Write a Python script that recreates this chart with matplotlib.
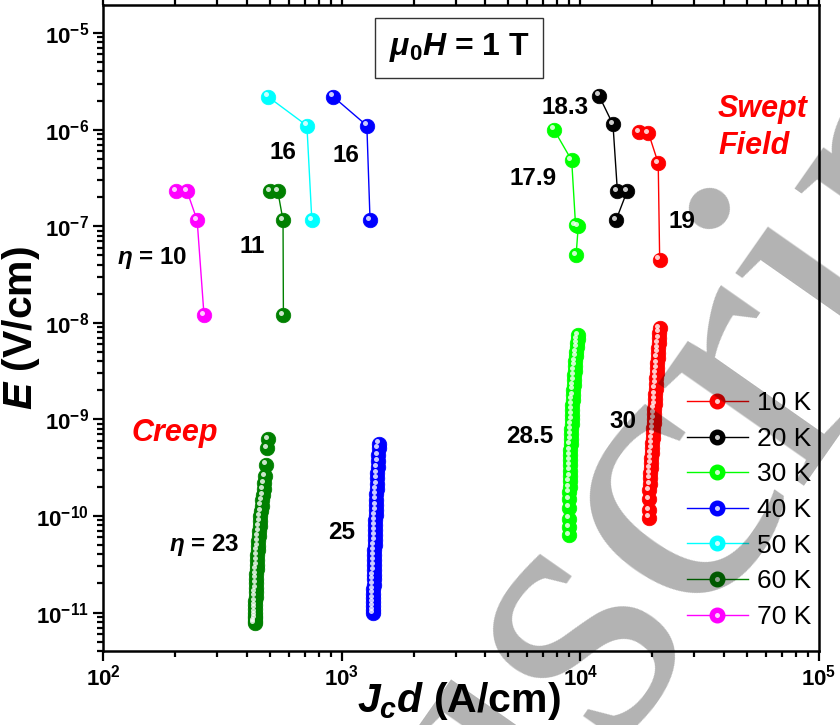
import matplotlib
matplotlib.use("Agg")
import matplotlib.pyplot as plt
from matplotlib.lines import Line2D
from matplotlib.legend_handler import HandlerTuple
from matplotlib.ticker import FuncFormatter, LogLocator, NullFormatter
import matplotlib.transforms as mtransforms
import numpy as np

plt.rcParams['font.family'] = ['Liberation Sans', 'DejaVu Sans']
plt.rcParams['mathtext.fontset'] = 'custom'
plt.rcParams['mathtext.rm'] = 'Liberation Sans:bold'
plt.rcParams['mathtext.bf'] = 'Liberation Sans:bold'
plt.rcParams['mathtext.it'] = 'Liberation Sans:italic:bold'
plt.rcParams['mathtext.sf'] = 'Liberation Sans:bold'

# ---------------- data ----------------
temps = ['10 K', '20 K', '30 K', '40 K', '50 K', '60 K', '70 K']
colors = ['#ff0000', '#000000', '#00ff00', '#0000ff', '#00ffff', '#008000', '#ff00ff']

# swept-field measurements (Jc*d in A/cm, E in V/cm)
swept_x = {
    '10 K': [17600, 19300, 21200, 21500],
    '20 K': [11970, 13700, 14300, 15700, 14100],
    '30 K': [7750, 9200, 9550, 9800, 9600],
    '40 K': [920, 1275, 1315],
    '50 K': [490, 715, 750],
    '60 K': [500, 540, 568, 570],
    '70 K': [202, 225, 248, 265],
}
swept_y = {
    '10 K': [9.5e-7, 9.2e-7, 4.5e-7, 4.5e-8],
    '20 K': [2.25e-6, 1.13e-6, 2.3e-7, 2.3e-7, 1.15e-7],
    '30 K': [1.0e-6, 4.8e-7, 1.02e-7, 1.0e-7, 5.0e-8],
    '40 K': [2.2e-6, 1.1e-6, 1.15e-7],
    '50 K': [2.2e-6, 1.1e-6, 1.15e-7],
    '60 K': [2.3e-7, 2.3e-7, 1.15e-7, 1.2e-8],
    '70 K': [2.3e-7, 2.3e-7, 1.15e-7, 1.2e-8],
}

# creep (relaxation) measurements
creep_x = {
    '10 K': [21500, 21430, 21360, 21290, 21220, 21150, 21080, 21010, 20940, 20870,
             20800, 20740, 20680, 20620, 20560, 20500, 20440, 20380, 20320, 20260,
             20200, 20140, 20080, 20020, 19960, 19900, 19840, 19780, 19720, 19660,
             19600, 19540, 19480, 19440, 19400, 19380],
    '30 K': [9780, 9740, 9700, 9660, 9620, 9580, 9540, 9500, 9460, 9430,
             9400, 9370, 9340, 9310, 9290, 9270, 9250, 9230, 9210, 9190,
             9170, 9150, 9130, 9110, 9090, 9075, 9060, 9050, 9040, 9030,
             9020, 9010, 9000, 8990, 8980, 8970, 8965, 8960],
    '40 K': [1432, 1428, 1424, 1420, 1416, 1412, 1408, 1404, 1401, 1398,
             1395, 1392, 1389, 1386, 1384, 1382, 1380, 1378, 1376, 1374,
             1372, 1370, 1368, 1366, 1364, 1362, 1361, 1360, 1359, 1358,
             1357, 1356, 1355, 1354, 1353],
    '60 K': [491, 486, 482, 477, 474, 471, 468, 465, 462, 460,
             457, 455, 453, 451, 449, 447, 446, 444.5, 443, 442,
             441, 440, 439, 438, 437, 436.5, 436, 435.5, 435, 434.5,
             434, 433.5, 433, 432.5, 432, 431.5],
}
creep_y = {
    '10 K': [8.8e-9, 7.9e-9, 7.0e-9, 6.2e-9, 5.5e-9, 4.9e-9, 4.35e-9, 3.85e-9, 3.4e-9, 3.0e-9,
             2.65e-9, 2.35e-9, 2.08e-9, 1.84e-9, 1.63e-9, 1.45e-9, 1.29e-9, 1.15e-9, 1.02e-9, 9.1e-10,
             8.1e-10, 7.2e-10, 6.4e-10, 5.7e-10, 5.05e-10, 4.5e-10, 4.0e-10, 3.55e-10, 3.15e-10, 2.8e-10,
             2.45e-10, 2.15e-10, 1.84e-10, 1.5e-10, 1.14e-10, 9.6e-11],
    '30 K': [7.4e-9, 6.8e-9, 6.2e-9, 5.6e-9, 5.0e-9, 4.5e-9, 4.0e-9, 3.6e-9, 3.2e-9, 2.85e-9,
             2.55e-9, 2.28e-9, 2.03e-9, 1.8e-9, 1.6e-9, 1.42e-9, 1.26e-9, 1.12e-9, 1.0e-9, 8.9e-10,
             7.9e-10, 7.0e-10, 6.2e-10, 5.5e-10, 4.85e-10, 4.3e-10, 3.8e-10, 3.35e-10, 2.95e-10, 2.6e-10,
             2.3e-10, 2.0e-10, 1.75e-10, 1.5e-10, 1.22e-10, 9.4e-11, 7.7e-11, 6.3e-11],
    '40 K': [5.6e-10, 5.0e-10, 4.3e-10, 3.7e-10, 3.2e-10, 2.8e-10, 2.45e-10, 2.15e-10, 1.9e-10, 1.68e-10,
             1.48e-10, 1.3e-10, 1.15e-10, 1.02e-10, 9.0e-11, 8.0e-11, 7.1e-11, 6.3e-11, 5.6e-11, 5.0e-11,
             4.45e-11, 3.95e-11, 3.5e-11, 3.1e-11, 2.75e-11, 2.45e-11, 2.2e-11, 1.95e-11, 1.75e-11, 1.57e-11,
             1.42e-11, 1.28e-11, 1.16e-11, 1.06e-11, 9.8e-12],
    '60 K': [6.2e-10, 5.0e-10, 3.4e-10, 2.6e-10, 2.2e-10, 1.9e-10, 1.65e-10, 1.45e-10, 1.28e-10, 1.13e-10,
             1.0e-10, 8.9e-11, 7.9e-11, 7.0e-11, 6.2e-11, 5.5e-11, 4.9e-11, 4.4e-11, 3.9e-11, 3.5e-11,
             3.1e-11, 2.8e-11, 2.5e-11, 2.25e-11, 2.0e-11, 1.8e-11, 1.62e-11, 1.46e-11, 1.32e-11, 1.2e-11,
             1.1e-11, 1.0e-11, 9.3e-12, 8.7e-12, 8.2e-12, 7.8e-12],
}

# annotations: (text, x-fraction, y-fraction of axes)
annotations = [
    (r'$\eta$ = 10', 0.0684, 0.6087),
    ('11', 0.2081, 0.6254),
    ('16', 0.2514, 0.7724),
    ('16', 0.3394, 0.7663),
    ('18.3', 0.6453, 0.8421),
    ('17.9', 0.6006, 0.7307),
    ('19', 0.8087, 0.6656),
    (r'$\eta$ = 23', 0.1411, 0.1641),
    ('25', 0.3338, 0.1842),
    ('28.5', 0.5964, 0.3328),
    ('30', 0.7263, 0.3545),
]

# ---------------- figure ----------------
fig = plt.figure(figsize=(8.4, 7.25), dpi=100)
ax = fig.add_axes([103/840, 1-651/725, (819-103)/840, (651-5)/725])
ax.set_xscale('log')
ax.set_yscale('log')
ax.set_xlim(1e2, 1e5)
ax.set_ylim(4.0e-12, 1.95e-5)

MS = 10.5
hl = mtransforms.ScaledTranslation(-1.6/72, 1.6/72, fig.dpi_scale_trans)

def balls(x, y, c, lw=0):
    ax.plot(x, y, color=c, lw=lw, ls='-' if lw else 'none', marker='o', ms=MS,
            mfc=c, mec=c, mew=0.5, zorder=3)
    ax.plot(x, y, ls='none', marker='o', ms=3.6, mfc='white', mec='none', alpha=0.8,
            transform=ax.transData + hl, zorder=4)

for t, c in zip(temps, colors):
    if t in creep_x:
        balls(creep_x[t], creep_y[t], c)
    balls(swept_x[t], swept_y[t], c, lw=1.0)

# axes styling
for s in ax.spines.values():
    s.set_linewidth(1.8)
ax.tick_params(which='both', direction='out', width=1.6, top=True, right=False)
ax.tick_params(which='major', length=7)
ax.tick_params(which='minor', length=4)
ax.xaxis.set_major_locator(LogLocator(base=10, numticks=10))
ax.yaxis.set_major_locator(LogLocator(base=10, numticks=20))
ax.xaxis.set_minor_locator(LogLocator(base=10, subs=np.arange(2, 10), numticks=20))
ax.yaxis.set_minor_locator(LogLocator(base=10, subs=np.arange(2, 10), numticks=20))
fmt = FuncFormatter(lambda v, p: r'$\mathbf{10^{%d}}$' % int(round(np.log10(v))))
ax.xaxis.set_major_formatter(fmt)
ax.yaxis.set_major_formatter(fmt)
ax.xaxis.set_minor_formatter(NullFormatter())
ax.yaxis.set_minor_formatter(NullFormatter())
ax.tick_params(axis='both', which='major', labelsize=16, pad=3)

ax.set_xlabel(r'$J_c d$ (A/cm)', fontsize=29.5, fontweight='bold')
ax.xaxis.set_label_coords((459-103)/716, (651-680)/646)
ax.set_ylabel(r'$E$ (V/cm)', fontsize=29.5, fontweight='bold')
ax.yaxis.set_label_coords((42-103)/716, 0.5)

for txt, fx, fy in annotations:
    ax.text(fx, fy, txt, transform=ax.transAxes, fontsize=17.5, fontweight='bold',
            ha='center', va='center', zorder=5)

red_kw = dict(transform=ax.transAxes, color='#ff0000', fontsize=22, fontweight='bold',
              fontstyle='italic', ha='left', va='center')
ax.text((132-103)/716, (651-433)/646, 'Creep', **red_kw)
ax.text((718-103)/716, (651-109)/646, 'Swept', **red_kw)
ax.text((718-103)/716, (651-146)/646, 'Field', **red_kw)

ax.text((459-103)/716, (651-48)/646, r'$\mu_\mathbf{0}H$ = 1 T', transform=ax.transAxes,
        fontsize=23, fontweight='bold', ha='center', va='center',
        bbox=dict(boxstyle='square,pad=0.42', fc='white', ec='#333333', lw=1.0))

# legend
handles = []
for t, c in zip(temps, colors):
    h1 = Line2D([], [], color=c, lw=1.0, marker='o', ms=MS, mfc=c, mec=c)
    h2 = Line2D([], [], ls='none', marker='o', ms=3.6, mfc='white', mec='none', alpha=0.8)
    handles.append((h1, h2))
leg = ax.legend(handles, temps, handler_map={tuple: HandlerTuple(ndivide=1)},
                loc='center left', bbox_to_anchor=((687-103)/716, (651-510)/646),
                frameon=False, fontsize=19, handlelength=2.31, handletextpad=0.34,
                labelspacing=0.44, borderpad=0, borderaxespad=0)

# watermark
fig.text(90/840, 1-1490/725, 'Manuscript', fontsize=280, family='Liberation Serif',
         color='black', alpha=0.3, rotation=55, rotation_mode='anchor',
         ha='left', va='baseline', zorder=10)

fig.savefig('out.png', dpi=100)
